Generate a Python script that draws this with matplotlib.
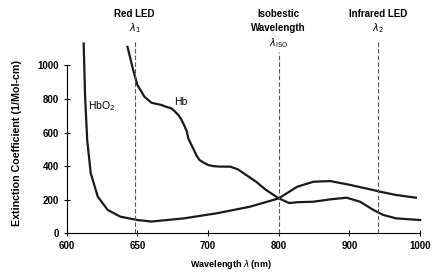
import numpy as np
import matplotlib
matplotlib.use("Agg")
import matplotlib.pyplot as plt

plt.rcParams['font.family'] = ['Liberation Sans Narrow', 'Liberation Sans', 'DejaVu Sans']

# wavelength (nm) / extinction coefficient
hbo2_nm = [612, 613, 614.5, 617, 622, 629, 638, 650, 660, 683, 712, 759, 800,
           826, 849, 873, 901, 929, 943, 966, 994]
hbo2_val = [1130, 815, 555, 357, 218, 139, 99, 79, 70, 89, 119, 158, 208,
            277, 307, 311, 288, 262, 248, 228, 212]

hb_nm = [643, 647, 650, 655, 660, 667, 670, 674, 676, 679, 681, 683, 685, 686,
         690, 692, 694, 697, 700, 707, 717, 731, 742, 754, 768, 782, 800, 815,
         826, 849, 873, 896, 915, 934, 948, 966, 1000]
hb_val = [1110, 972, 883, 813, 777, 764, 754, 744, 730, 704, 679, 645, 605, 565,
          496, 460, 436, 420, 407, 400, 397, 397, 381, 347, 307, 258, 208, 180,
          185, 188, 202, 212, 188, 139, 109, 89, 79]

x_ticks = [600, 650, 700, 800, 900, 1000]
y_ticks = [0, 200, 400, 600, 800, 1000]
led_red = 648
iso = 800
led_ir = 940


def fwd(x):
    return np.interp(x, x_ticks, np.arange(len(x_ticks)))


def inv(x):
    return np.interp(x, np.arange(len(x_ticks)), x_ticks)


fig = plt.figure(figsize=(4.34, 2.76), dpi=100)
ax = fig.add_axes([0.1537, 0.1547, 0.8143, 0.706])
ax.set_xscale('function', functions=(fwd, inv))

ax.plot(hbo2_nm, hbo2_val, color='#1a1a1a', lw=1.6, clip_on=False)
ax.plot(hb_nm, hb_val, color='#1a1a1a', lw=1.6, clip_on=False)

dash = dict(color='#555555', lw=0.8, linestyles=(0, (4, 2)), clip_on=False)
ax.vlines(led_red, 0, 1150, **dash)
ax.vlines(iso, 0, 1078, **dash)
ax.vlines(led_ir, 0, 1150, **dash)

hdr = dict(ha='center', va='center', fontsize=7, fontweight='bold', clip_on=False)
ax.text(led_red, 1305, 'Red LED', **hdr)
ax.text(led_red, 1222, r'$\lambda_1$', **hdr)
ax.text(iso, 1305, 'Isobestic', **hdr)
ax.text(iso, 1222, 'Wavelength', **hdr)
ax.text(iso, 1133, r'$\lambda_{\mathrm{ISO}}$', **hdr)
ax.text(led_ir, 1305, 'Infrared LED', **hdr)
ax.text(led_ir, 1222, r'$\lambda_2$', **hdr)

ax.text(625, 760, r'HbO$_2$', ha='center', va='center', fontsize=7.5)
ax.text(681, 780, 'Hb', ha='center', va='center', fontsize=7.5)

ax.set_xlim(600, 1000)
ax.set_ylim(0, 1160)
ax.set_xticks(x_ticks)
ax.set_yticks(y_ticks)
ax.tick_params(direction='inout', length=5, width=0.8, labelsize=7, pad=3)
for lab in ax.get_xticklabels() + ax.get_yticklabels():
    lab.set_fontweight('bold')

for s in ['top', 'right']:
    ax.spines[s].set_visible(False)
ax.spines['left'].set_bounds(0, 1000)
ax.spines['left'].set_linewidth(0.8)
ax.spines['bottom'].set_linewidth(0.8)

ax.set_xlabel(r'Wavelength $\lambda$ (nm)', fontsize=6.5, fontweight='bold')
ax.set_ylabel('Extinction Coefficient (1/Mol-cm)', fontsize=7.7, fontweight='bold')
ax.xaxis.set_label_coords(0.465, -0.127)
ax.yaxis.set_label_coords(-0.126, 0.463)

fig.savefig('out.png', dpi=100)
